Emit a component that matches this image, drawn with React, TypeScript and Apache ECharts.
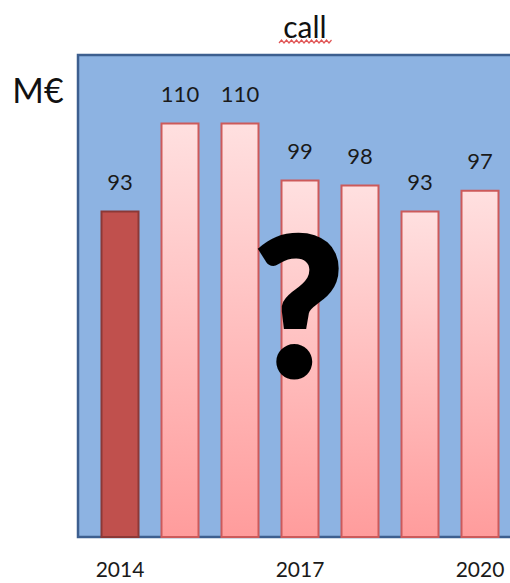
import React, { useEffect, useRef } from "react";
import * as echarts from "echarts";

const years = ["2014", "2015", "2016", "2017", "2018", "2019", "2020"];
const values = [93, 110, 110, 99, 98, 93, 97];
const titleText = "call";
const unitText = "M€";

export default function App() {
  const ref = useRef<HTMLDivElement>(null);
  useEffect(() => {
    const chart = echarts.init(ref.current!, null, { renderer: "svg" });
    const wave: number[][] = [];
    for (let i = 0; i <= 21; i++) wave.push([279 + i * 2.5, i % 2 === 0 ? 43 : 40]);
    const font = "Lato, 'Open Sans', sans-serif";
    chart.setOption({
      animation: false,
      grid: { left: 90, top: 55, width: 424, height: 482 },
      xAxis: {
        type: "category",
        data: years,
        axisLine: { show: false },
        axisTick: { show: false },
        axisLabel: { interval: 2, margin: 21, fontSize: 21, color: "#1a1a1a", fontFamily: font },
      },
      yAxis: { type: "value", min: 30, max: 123, show: false, splitLine: { show: false } },
      graphic: [
        {
          type: "rect",
          z: -10,
          shape: { x: 78, y: 55, width: 460, height: 482 },
          style: { fill: "#8DB3E2", stroke: "#3D5F8F", lineWidth: 2.5 },
        },
        {
          type: "text",
          x: 305,
          y: 26,
          style: { text: titleText, fill: "#111", font: `30px ${font}`, textAlign: "center", textVerticalAlign: "middle", align: "center", verticalAlign: "middle" },
        },
        { type: "polyline", shape: { points: wave }, style: { stroke: "#e05555", lineWidth: 1.2, fill: null } },
        {
          type: "text",
          x: 38,
          y: 89,
          style: { text: unitText, fill: "#111", font: `34px ${font}`, textAlign: "center", textVerticalAlign: "middle", align: "center", verticalAlign: "middle" },
        },
        {
          type: "text",
          x: 299,
          y: 302,
          z: 100,
          style: { text: "?", fill: "#000", font: `900 190px ${font}`, textAlign: "center", textVerticalAlign: "middle", align: "center", verticalAlign: "middle", stroke: "#000", lineWidth: 5 },
        },
      ],
      series: [
        {
          type: "bar",
          barWidth: 39,
          data: values.map((v, i) =>
            i === 0
              ? { value: v, itemStyle: { color: "#C0504D", borderColor: "#8C3836", borderWidth: 2 } }
              : {
                  value: v,
                  itemStyle: {
                    color: new echarts.graphic.LinearGradient(0, 0, 0, 1, [
                      { offset: 0, color: "#FFE0E0" },
                      { offset: 1, color: "#FF9C9C" },
                    ]),
                    borderColor: "#CD5A5A",
                    borderWidth: 2,
                  },
                }
          ),
          label: { show: true, position: "top", distance: 18, fontSize: 22, color: "#1a1a1a", fontFamily: font },
        },
      ],
    });
    return () => chart.dispose();
  }, []);
  return <div ref={ref} style={{ position: "absolute", left: 0, top: 0, width: 510, height: 583 }} />;
}
